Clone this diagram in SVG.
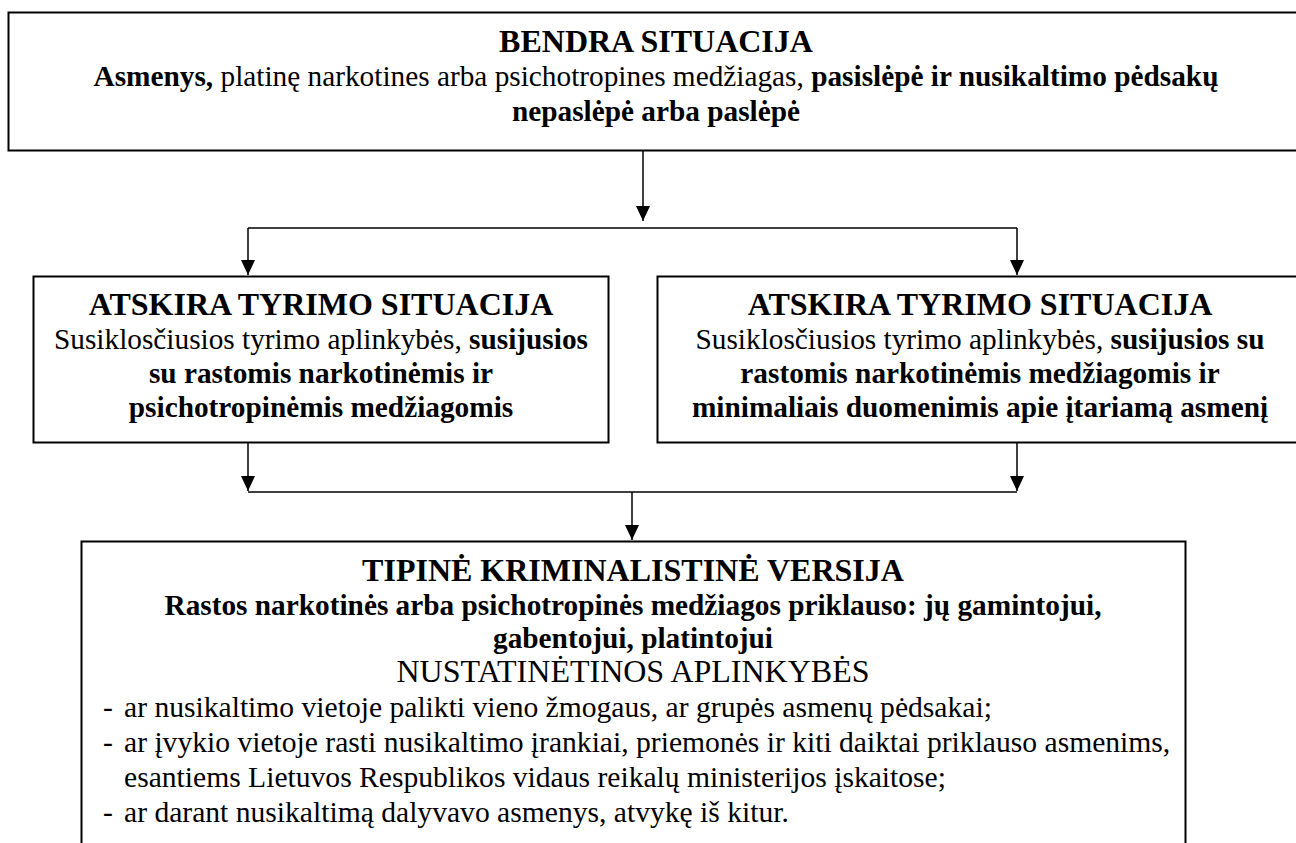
<svg xmlns="http://www.w3.org/2000/svg" width="1296" height="843" viewBox="0 0 1296 843">
<style>
.box{fill:#fff;stroke:#000;stroke-width:2}
.con{fill:none;stroke:#000;stroke-width:1.5}
text{font-family:'Liberation Serif',serif;fill:#000}
.t{font-size:32px;font-weight:bold;text-anchor:middle}
.h{font-size:32px;text-anchor:middle}
.b{font-size:29.3px;text-anchor:middle}
.l{font-size:29.6px}
.bd{font-weight:bold}
</style>
<defs>
<marker id="ah" markerWidth="15" markerHeight="14" refX="15" refY="7" orient="auto" markerUnits="userSpaceOnUse">
<path d="M0,0 L15,7 L0,14 Z" fill="#000"/>
</marker>
</defs>
<rect width="1296" height="843" fill="#fff"/>
<g id="connectors">
<path class="con" d="M643,150 V221" marker-end="url(#ah)"/>
<path class="con" d="M248,228 H1017"/>
<path class="con" d="M248,228 V275" marker-end="url(#ah)"/>
<path class="con" d="M1017,228 V275" marker-end="url(#ah)"/>
<path class="con" d="M248,443 V491" marker-end="url(#ah)"/>
<path class="con" d="M1017,443 V491" marker-end="url(#ah)"/>
<path class="con" d="M248,492 H1017"/>
<path class="con" d="M632,492 V540" marker-end="url(#ah)"/>
</g>
<g id="node-bendra">
<rect class="box" x="8.5" y="12.5" width="1296" height="138"/>
<text class="t" x="656" y="52">BENDRA SITUACIJA</text>
<text class="b" x="656" y="86"><tspan class="bd">Asmenys,</tspan> platinę narkotines arba psichotropines medžiagas, <tspan class="bd">pasislėpė ir nusikaltimo pėdsakų</tspan></text>
<text class="b bd" x="656" y="121">nepaslėpė arba paslėpė</text>
</g>
<g id="node-atskira-1">
<rect class="box" x="33.5" y="276.5" width="575" height="166"/>
<text class="t" x="321" y="315">ATSKIRA TYRIMO SITUACIJA</text>
<text class="b" x="321" y="349">Susiklosčiusios tyrimo aplinkybės, <tspan class="bd">susijusios</tspan></text>
<text class="b bd" x="321" y="383">su rastomis narkotinėmis ir</text>
<text class="b bd" x="321" y="417">psichotropinėmis medžiagomis</text>
</g>
<g id="node-atskira-2">
<rect class="box" x="657.5" y="276.5" width="646" height="166"/>
<text class="t" x="980" y="315">ATSKIRA TYRIMO SITUACIJA</text>
<text class="b" x="980" y="349">Susiklosčiusios tyrimo aplinkybės, <tspan class="bd">susijusios su</tspan></text>
<text class="b bd" x="980" y="383">rastomis narkotinėmis medžiagomis ir</text>
<text class="b bd" x="980" y="417">minimaliais duomenimis apie įtariamą asmenį</text>
</g>
<g id="node-tipine">
<rect class="box" x="81.5" y="541.5" width="1104" height="320"/>
<text class="t" x="633" y="581">TIPINĖ KRIMINALISTINĖ VERSIJA</text>
<text class="b bd" x="633" y="615">Rastos narkotinės arba psichotropinės medžiagos priklauso: jų gamintojui,</text>
<text class="b bd" x="633" y="648">gabentojui, platintojui</text>
<text class="h" x="633" y="682">NUSTATINĖTINOS APLINKYBĖS</text>
<text class="l" x="103" y="717">-</text>
<text class="l" x="124" y="717">ar nusikaltimo vietoje palikti vieno žmogaus, ar grupės asmenų pėdsakai;</text>
<text class="l" x="103" y="752">-</text>
<text class="l" x="124" y="752">ar įvykio vietoje rasti nusikaltimo įrankiai, priemonės ir kiti daiktai priklauso asmenims,</text>
<text class="l" x="124" y="787">esantiems Lietuvos Respublikos vidaus reikalų ministerijos įskaitose;</text>
<text class="l" x="103" y="822">-</text>
<text class="l" x="124" y="822">ar darant nusikaltimą dalyvavo asmenys, atvykę iš kitur.</text>
</g>
</svg>
